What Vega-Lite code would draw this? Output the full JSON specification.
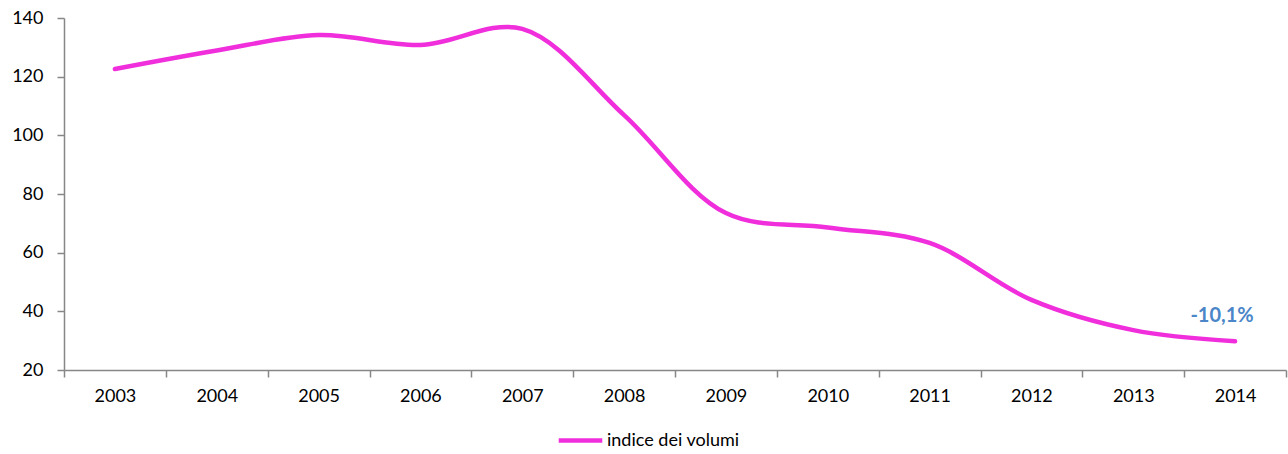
{
  "$schema": "https://vega.github.io/schema/vega-lite/v6.json",
  "width": 1222,
  "height": 352,
  "autosize": {"type": "none"},
  "padding": {"left": 64, "top": 18, "right": 2, "bottom": 84},
  "background": "white",
  "config": {
    "view": {"stroke": null},
    "font": "Lato",
    "axis": {"labelFont": "Lato", "labelFontSize": 18, "labelColor": "#000000", "domainColor": "#878787", "tickColor": "#878787", "domainWidth": 1.5, "tickWidth": 1.5, "grid": false, "title": null}
  },
  "data": {
    "values": [
      {"anno": "2003", "valore": 122.6, "serie": "indice dei volumi"},
      {"anno": "2004", "valore": 128.9, "serie": "indice dei volumi"},
      {"anno": "2005", "valore": 134.2, "serie": "indice dei volumi"},
      {"anno": "2006", "valore": 130.8, "serie": "indice dei volumi"},
      {"anno": "2007", "valore": 136.3, "serie": "indice dei volumi"},
      {"anno": "2008", "valore": 106.9, "serie": "indice dei volumi"},
      {"anno": "2009", "valore": 73.5, "serie": "indice dei volumi"},
      {"anno": "2010", "valore": 68.6, "serie": "indice dei volumi"},
      {"anno": "2011", "valore": 63.3, "serie": "indice dei volumi"},
      {"anno": "2012", "valore": 43.9, "serie": "indice dei volumi"},
      {"anno": "2013", "valore": 33.6, "serie": "indice dei volumi"},
      {"anno": "2014", "valore": 29.8, "serie": "indice dei volumi", "etichetta": "-10,1%"}
    ]
  },
  "layer": [
    {
      "mark": {"type": "line", "interpolate": "catmull-rom", "strokeWidth": 4.5, "strokeCap": "round"},
      "encoding": {
        "x": {"field": "anno", "type": "ordinal", "scale": {"paddingInner": 0, "paddingOuter": 0}, "axis": {"labelAngle": 0, "tickBand": "extent", "tickSize": 7, "labelPadding": 10}},
        "y": {"field": "valore", "type": "quantitative", "scale": {"domain": [20, 140], "nice": false}, "axis": {"values": [20, 40, 60, 80, 100, 120, 140], "tickSize": 7, "labelPadding": 14}},
        "color": {"field": "serie", "type": "nominal", "scale": {"range": ["#F02EDC"]}, "legend": {"orient": "none", "legendX": 492, "legendY": 398, "title": null, "symbolType": "stroke", "symbolSize": 1900, "symbolStrokeWidth": 4.5, "symbolStrokeColor": "#F02EDC", "labelFont": "Lato", "labelFontSize": 18, "labelColor": "#000000", "labelOffset": 2}}
      }
    },
    {
      "transform": [{"filter": "datum.etichetta != null"}],
      "mark": {"type": "text", "dy": -25, "dx": -13, "fontSize": 20, "fontWeight": "bold", "color": "#4A86C8", "font": "Lato"},
      "encoding": {
        "x": {"field": "anno", "type": "ordinal"},
        "y": {"field": "valore", "type": "quantitative"},
        "text": {"field": "etichetta"}
      }
    }
  ]
}
